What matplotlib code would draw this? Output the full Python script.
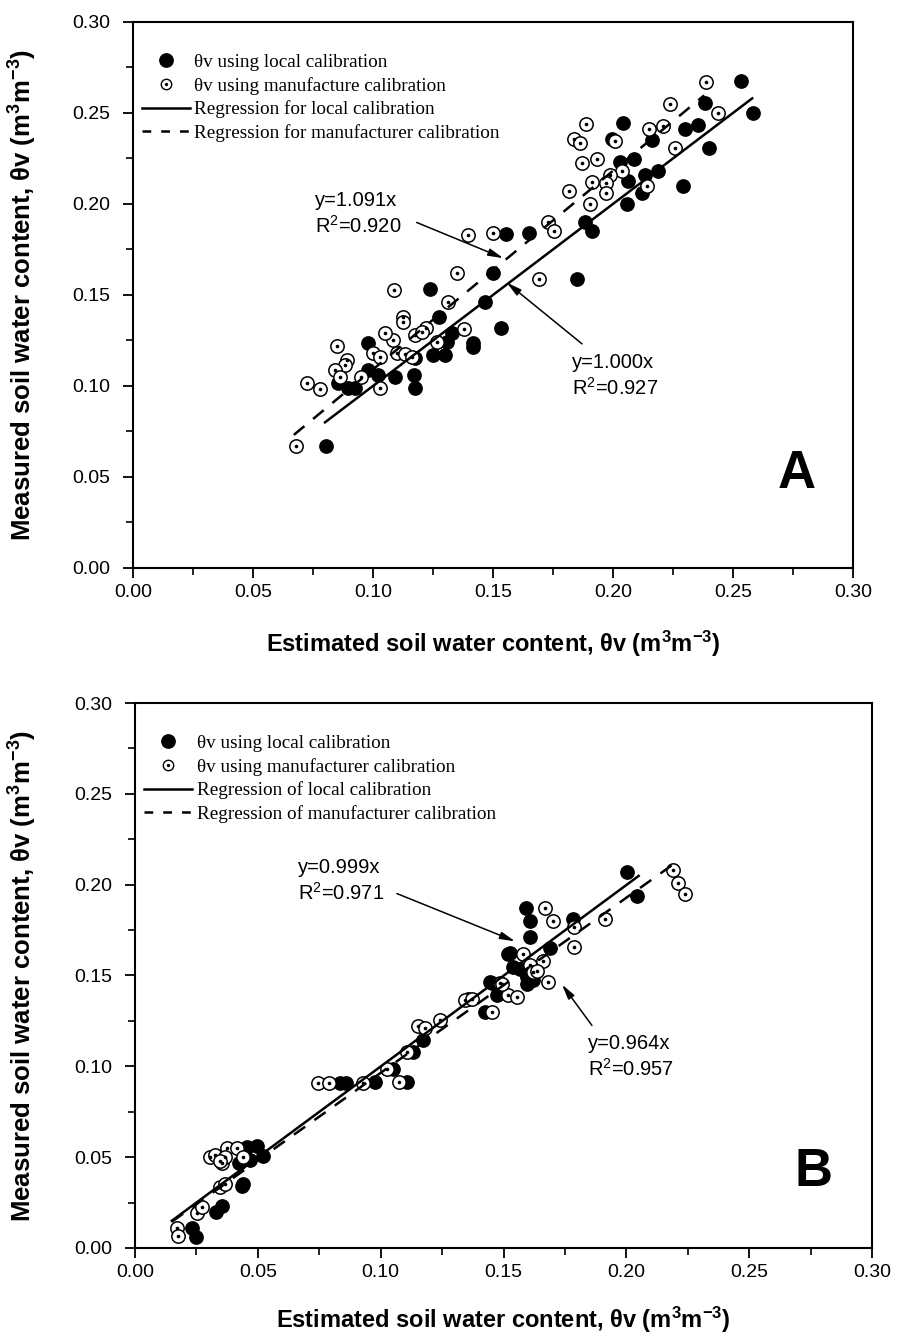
import matplotlib
matplotlib.use('Agg')
import matplotlib.pyplot as plt
from matplotlib.lines import Line2D
from matplotlib.ticker import MultipleLocator, FormatStrFormatter
import numpy as np

plt.rcParams['font.family'] = ['Liberation Sans', 'DejaVu Sans']
plt.rcParams['mathtext.fontset'] = 'custom'
plt.rcParams['mathtext.rm'] = 'Liberation Sans'
plt.rcParams['mathtext.bf'] = 'Liberation Sans:bold'
plt.rcParams['mathtext.it'] = 'Liberation Sans:italic'

# ---- panel A : estimated (x) vs measured (y) ----
a_local_x = [0.2533, 0.2582, 0.2383, 0.2356, 0.2300, 0.2401, 0.2043, 0.1994, 0.2161,
             0.2088, 0.2029, 0.2189, 0.2133, 0.2064, 0.2119, 0.2293, 0.2057, 0.1883,
             0.1911, 0.1554, 0.1651, 0.1501, 0.1467, 0.1849, 0.1237, 0.1276, 0.1532,
             0.0980, 0.1175, 0.1328, 0.1307, 0.1418, 0.1418, 0.1251, 0.1300, 0.0980,
             0.0855, 0.0897, 0.0925, 0.1092, 0.1171, 0.1175, 0.0804, 0.1022]
a_local_y = [0.2678, 0.2498, 0.2553, 0.2434, 0.2410, 0.2306, 0.2447, 0.2355, 0.2352,
             0.2245, 0.2233, 0.2183, 0.2159, 0.2128, 0.2062, 0.2099, 0.2000, 0.1903,
             0.1853, 0.1835, 0.1842, 0.1623, 0.1463, 0.1586, 0.1531, 0.1380, 0.1317,
             0.1234, 0.1152, 0.1290, 0.1244, 0.1234, 0.1216, 0.1170, 0.1170, 0.1088,
             0.1015, 0.0987, 0.0987, 0.1051, 0.1060, 0.0987, 0.0670, 0.1060]
a_manu_x = [0.2388, 0.2439, 0.2238, 0.1888, 0.1839, 0.1863, 0.2008, 0.2151, 0.2210,
            0.2258, 0.1870, 0.1932, 0.2036, 0.1988, 0.1911, 0.1971, 0.1971, 0.2143,
            0.1818, 0.1904, 0.1730, 0.1754, 0.1499, 0.1397, 0.1693, 0.1349, 0.1087,
            0.1314, 0.1126, 0.1126, 0.1220, 0.1175, 0.1085, 0.1050, 0.1001, 0.1029,
            0.1099, 0.1133, 0.1161, 0.1268, 0.1379, 0.0849, 0.0890, 0.0883, 0.0842,
            0.0863, 0.0950, 0.1029, 0.0724, 0.0779, 0.0679, 0.1203]
a_manu_y = [0.2672, 0.2498, 0.2548, 0.2438, 0.2355, 0.2333, 0.2348, 0.2410, 0.2429,
            0.2306, 0.2227, 0.2245, 0.2183, 0.2159, 0.2123, 0.2114, 0.2062, 0.2099,
            0.2071, 0.2000, 0.1903, 0.1853, 0.1842, 0.1830, 0.1586, 0.1623, 0.1529,
            0.1462, 0.1380, 0.1353, 0.1317, 0.1280, 0.1253, 0.1293, 0.1183, 0.1158,
            0.1180, 0.1176, 0.1161, 0.1244, 0.1311, 0.1222, 0.1143, 0.1115, 0.1088,
            0.1048, 0.1048, 0.0987, 0.1018, 0.0982, 0.0670, 0.1298]
a_slope_local, a_range_local = 1.000, (0.080, 0.258)
a_slope_manu, a_range_manu = 1.091, (0.067, 0.238)

# ---- panel B ----
b_local_x = [0.0231, 0.0247, 0.0330, 0.0353, 0.0434, 0.0441, 0.0455, 0.0495, 0.0522,
             0.0468, 0.0425, 0.0834, 0.0859, 0.0977, 0.1106, 0.1051, 0.1133, 0.1174,
             0.1357, 0.1424, 0.1452, 0.1472, 0.1519, 0.1540, 0.1594, 0.1621, 0.2001,
             0.2042, 0.1591, 0.1608, 0.1784, 0.1608, 0.1689, 0.1526, 0.1567, 0.1594,
             0.1594, 0.1445]
b_local_y = [0.0108, 0.0062, 0.0200, 0.0231, 0.0341, 0.0352, 0.0557, 0.0560, 0.0505,
             0.0484, 0.0470, 0.0908, 0.0908, 0.0914, 0.0914, 0.0987, 0.1079, 0.1143,
             0.1372, 0.1298, 0.1458, 0.1390, 0.1619, 0.1546, 0.1491, 0.1473, 0.2068,
             0.1940, 0.1872, 0.1802, 0.1812, 0.1710, 0.1652, 0.1623, 0.1537, 0.1510,
             0.1454, 0.1463]
b_manu_x = [0.0170, 0.0176, 0.0251, 0.0271, 0.0346, 0.0366, 0.0305, 0.0326, 0.0353,
            0.0373, 0.0414, 0.0438, 0.0366, 0.0345, 0.0746, 0.0791, 0.0929, 0.1076,
            0.1024, 0.1106, 0.1153, 0.1180, 0.1241, 0.1343, 0.1370, 0.1452, 0.1486,
            0.1519, 0.1553, 0.1578, 0.1608, 0.1621, 0.1669, 0.1703, 0.1787, 0.1787,
            0.1913, 0.1662, 0.1635, 0.1682, 0.1492, 0.2190, 0.2210, 0.2240]
b_manu_y = [0.0108, 0.0066, 0.0191, 0.0227, 0.0337, 0.0352, 0.0498, 0.0511, 0.0465,
            0.0548, 0.0553, 0.0502, 0.0502, 0.0480, 0.0908, 0.0908, 0.0908, 0.0914,
            0.0987, 0.1079, 0.1220, 0.1213, 0.1253, 0.1363, 0.1372, 0.1298, 0.1458,
            0.1390, 0.1381, 0.1619, 0.1555, 0.1518, 0.1872, 0.1802, 0.1769, 0.1655,
            0.1812, 0.1579, 0.1527, 0.1463, 0.1454, 0.2080, 0.2010, 0.1950]
b_slope_local, b_range_local = 0.999, (0.015, 0.205)
b_slope_manu, b_range_manu = 0.964, (0.015, 0.222)

ticks = [0.00, 0.05, 0.10, 0.15, 0.20, 0.25, 0.30]
x_label = r'Estimated soil water content, θv (m$^{\mathbf{3}}$m$^{\mathbf{-3}}$)'
y_label = r'Measured soil water content, θv (m$^{\mathbf{3}}$m$^{\mathbf{-3}}$)'

a_labels = ['θv using local calibration', 'θv using manufacture calibration',
            'Regression for local calibration', 'Regression for manufacturer calibration']
b_labels = ['θv using local calibration', 'θv using manufacturer calibration',
            'Regression of local calibration', 'Regression of manufacturer calibration']


def draw_panel(ax, lx, ly, mx, my, s_loc, r_loc, s_man, r_man, labels, letter, letter_xy):
  ms = 9.6
  ax.plot(lx, ly, 'o', ms=ms, mfc='black', mec='black', ls='none', zorder=3)
  ax.plot(mx, my, 'o', ms=ms, mfc='white', mec='black', mew=1.1, ls='none', zorder=4)
  ax.plot(mx, my, 'o', ms=1.6, mfc='black', mec='black', ls='none', zorder=5)

  xl = np.array(r_loc)
  xm = np.array(r_man)
  ax.plot(xl, s_loc * xl, color='black', lw=1.8, zorder=6)
  ax.plot(xm, s_man * xm, color='black', lw=1.8, dashes=(5.5, 4.5), zorder=6)

  h1 = Line2D([], [], marker='o', ms=ms, mfc='black', mec='black', ls='none')
  h2o = Line2D([], [], marker='o', ms=7.5, mfc='white', mec='black', mew=1.0, ls='none')
  h2d = Line2D([], [], marker='o', ms=1.4, mfc='black', mec='black', ls='none')
  h3 = Line2D([], [], color='black', lw=1.8)
  h4 = Line2D([], [], color='black', lw=1.8, dashes=(3.5, 4.0))
  ax.legend([h1, (h2o, h2d), h3, h4], labels, loc='upper left',
            bbox_to_anchor=(0.012, 0.942), frameon=False, borderpad=0,
            borderaxespad=0, handlelength=2.5, handletextpad=0.25,
            labelspacing=0.3, prop={'family': 'Liberation Serif', 'size': 13.8})

  ax.set_xlim(0, 0.30)
  ax.set_ylim(0, 0.30)
  ax.set_xticks(ticks)
  ax.set_yticks(ticks)
  ax.xaxis.set_minor_locator(MultipleLocator(0.025))
  ax.yaxis.set_minor_locator(MultipleLocator(0.025))
  ax.xaxis.set_major_formatter(FormatStrFormatter('%.2f'))
  ax.yaxis.set_major_formatter(FormatStrFormatter('%.2f'))
  ax.tick_params(which='major', direction='out', length=7.5, width=1.3,
                 labelsize=14, pad=4)
  ax.tick_params(which='minor', direction='out', length=5, width=1.2)
  ax.tick_params(axis='y', which='major', pad=9)
  for sp in ax.spines.values():
    sp.set_linewidth(1.5)

  ax.set_xlabel(x_label, fontsize=17, fontweight='bold')
  ax.set_ylabel(y_label, fontsize=18.5, fontweight='bold')
  ax.text(letter_xy[0], letter_xy[1], letter, fontsize=38, fontweight='bold',
          ha='center', va='center')


fig = plt.figure(figsize=(9, 13.36), dpi=100)
axA = fig.add_axes([0.1478, 0.5749, 0.8, 0.4087])
axB = fig.add_axes([0.1500, 0.0659, 0.8189, 0.4079])

draw_panel(axA, a_local_x, a_local_y, a_manu_x, a_manu_y,
           a_slope_local, a_range_local, a_slope_manu, a_range_manu,
           a_labels, 'A', (0.2767, 0.0516))
draw_panel(axB, b_local_x, b_local_y, b_manu_x, b_manu_y,
           b_slope_local, b_range_local, b_slope_manu, b_range_manu,
           b_labels, 'B', (0.2760, 0.0420))

arrow = dict(arrowstyle='-|>,head_length=0.9,head_width=0.22', color='black',
             lw=1.1, shrinkA=0, shrinkB=0)

# panel A annotations
axA.text(0.0758, 0.1945, 'y=1.091x\nR$^2$=0.920', fontsize=14.5, ha='left',
         va='center', linespacing=1.3)
axA.annotate('', xy=(0.1543, 0.1702), xytext=(0.1182, 0.1898), arrowprops=arrow)
axA.text(0.1829, 0.1055, 'y=1.000x\nR$^2$=0.927', fontsize=14.5, ha='left',
         va='center', linespacing=1.3)
axA.annotate('', xy=(0.1557, 0.1568), xytext=(0.1871, 0.1231), arrowprops=arrow)

# panel B annotations
axB.text(0.0663, 0.2022, 'y=0.999x\nR$^2$=0.971', fontsize=14.5, ha='left',
         va='center', linespacing=1.3)
axB.annotate('', xy=(0.1547, 0.1688), xytext=(0.1066, 0.1951), arrowprops=arrow)
axB.text(0.1844, 0.1052, 'y=0.964x\nR$^2$=0.957', fontsize=14.5, ha='left',
         va='center', linespacing=1.3)
axB.annotate('', xy=(0.1738, 0.1450), xytext=(0.1860, 0.1225), arrowprops=arrow)

axA.xaxis.set_label_coords(0.5, -0.112)
axB.xaxis.set_label_coords(0.5, -0.104)
for ax in (axA, axB):
  ax.yaxis.set_label_coords(-0.13, 0.5)

fig.savefig('out.png', dpi=100)
